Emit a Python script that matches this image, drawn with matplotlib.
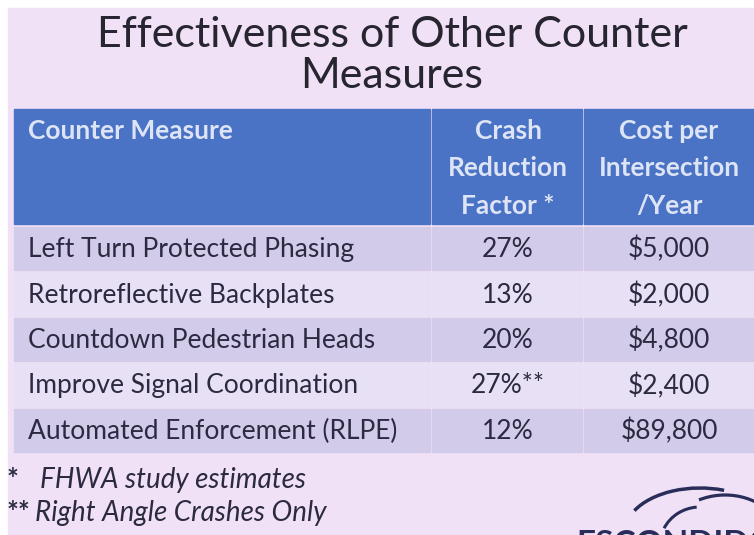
import matplotlib.pyplot as plt
from matplotlib.patches import Rectangle, Arc

plt.rcParams['font.family'] = ['Lato', 'DejaVu Sans']

title_lines = ['Effectiveness of Other Counter', 'Measures']
headers = [['Counter Measure'], ['Crash', 'Reduction', 'Factor *'],
           ['Cost per', 'Intersection', '/Year']]
measures = ['Left Turn Protected Phasing', 'Retroreflective Backplates',
            'Countdown Pedestrian Heads', 'Improve Signal Coordination',
            'Automated Enforcement (RLPE)']
crf = ['27%', '13%', '20%', '27%**', '12%']
cost = ['$5,000', '$2,000', '$4,800', '$2,400', '$89,800']
notes = ['*', 'FHWA study estimates', '**', 'Right Angle Crashes Only']

W, H = 754, 535
bg = '#f1e1f6'
head_col = '#4b73c5'
row_cols = ['#d2cbea', '#e8e1f5']
ink = '#2b2a40'
logo = '#2a2d5a'

fig = plt.figure(figsize=(W / 100, H / 100), dpi=100)
fig.patch.set_facecolor('white')
ax = fig.add_axes([0, 0, 1, 1])
ax.set_xlim(0, W)
ax.set_ylim(H, 0)
ax.axis('off')
ax.add_patch(Rectangle((8, 8), W, H, color=bg, zorder=0))

# title
for i, line in enumerate(title_lines):
    ax.text(392, 35 + i * 41, line, ha='center', va='center', fontsize=31, color='#262530')

# table geometry
x0, x1, x2, x3 = 14, 432, 584, 760
top, head_h, row_h = 109, 115, 45.4
cols = [(x0, x1), (x1, x2), (x2, x3)]
centers = [None, 508, 669]

for j, (a, b) in enumerate(cols):
    ax.add_patch(Rectangle((a, top), b - a - 2, head_h, color=head_col, zorder=1))
    for k, line in enumerate(headers[j]):
        y = top + 22 + k * 37.5
        if j == 0:
            ax.text(a + 14, y, line, ha='left', va='center', fontsize=19,
                    fontweight='bold', color='#dde4f6')
        else:
            ax.text(centers[j], y, line, ha='center', va='center', fontsize=19,
                    fontweight='bold', color='#dde4f6')

for i in range(len(measures)):
    y = top + head_h + 3 + i * row_h
    for j, (a, b) in enumerate(cols):
        ax.add_patch(Rectangle((a, y), b - a - 2, row_h - 2, color=row_cols[i % 2], zorder=1))
    yc = y + row_h / 2
    ax.text(x0 + 14, yc, measures[i], ha='left', va='center', fontsize=19, color=ink)
    ax.text(centers[1], yc, crf[i], ha='center', va='center', fontsize=19, color=ink)
    ax.text(centers[2], yc, cost[i], ha='center', va='center', fontsize=19, color=ink)

# footnotes
for i in range(2):
    y = 480 + i * 33
    ax.text(7, y, notes[2 * i], ha='left', va='center', fontsize=20, fontweight='bold',
            color=ink)
    ax.text(40 if i == 0 else 35, y, notes[2 * i + 1], ha='left', va='center', fontsize=20,
            style='italic', color=ink)

# logo fragment
ax.add_patch(Arc((700, 532), 150, 88, theta1=198, theta2=300, color=logo, lw=2.5, zorder=2))
ax.add_patch(Arc((725, 545), 120, 100, theta1=240, theta2=330, color=logo, lw=2.3, zorder=2))
ax.add_patch(Arc((700, 545), 80, 76, theta1=205, theta2=265, color=logo, lw=2.2, zorder=2))
ax.text(576, 545, 'ESCONDIDO', ha='left', va='center', fontsize=24, fontweight='bold',
        color=logo)

fig.savefig('out.png', dpi=100, facecolor=fig.get_facecolor())
